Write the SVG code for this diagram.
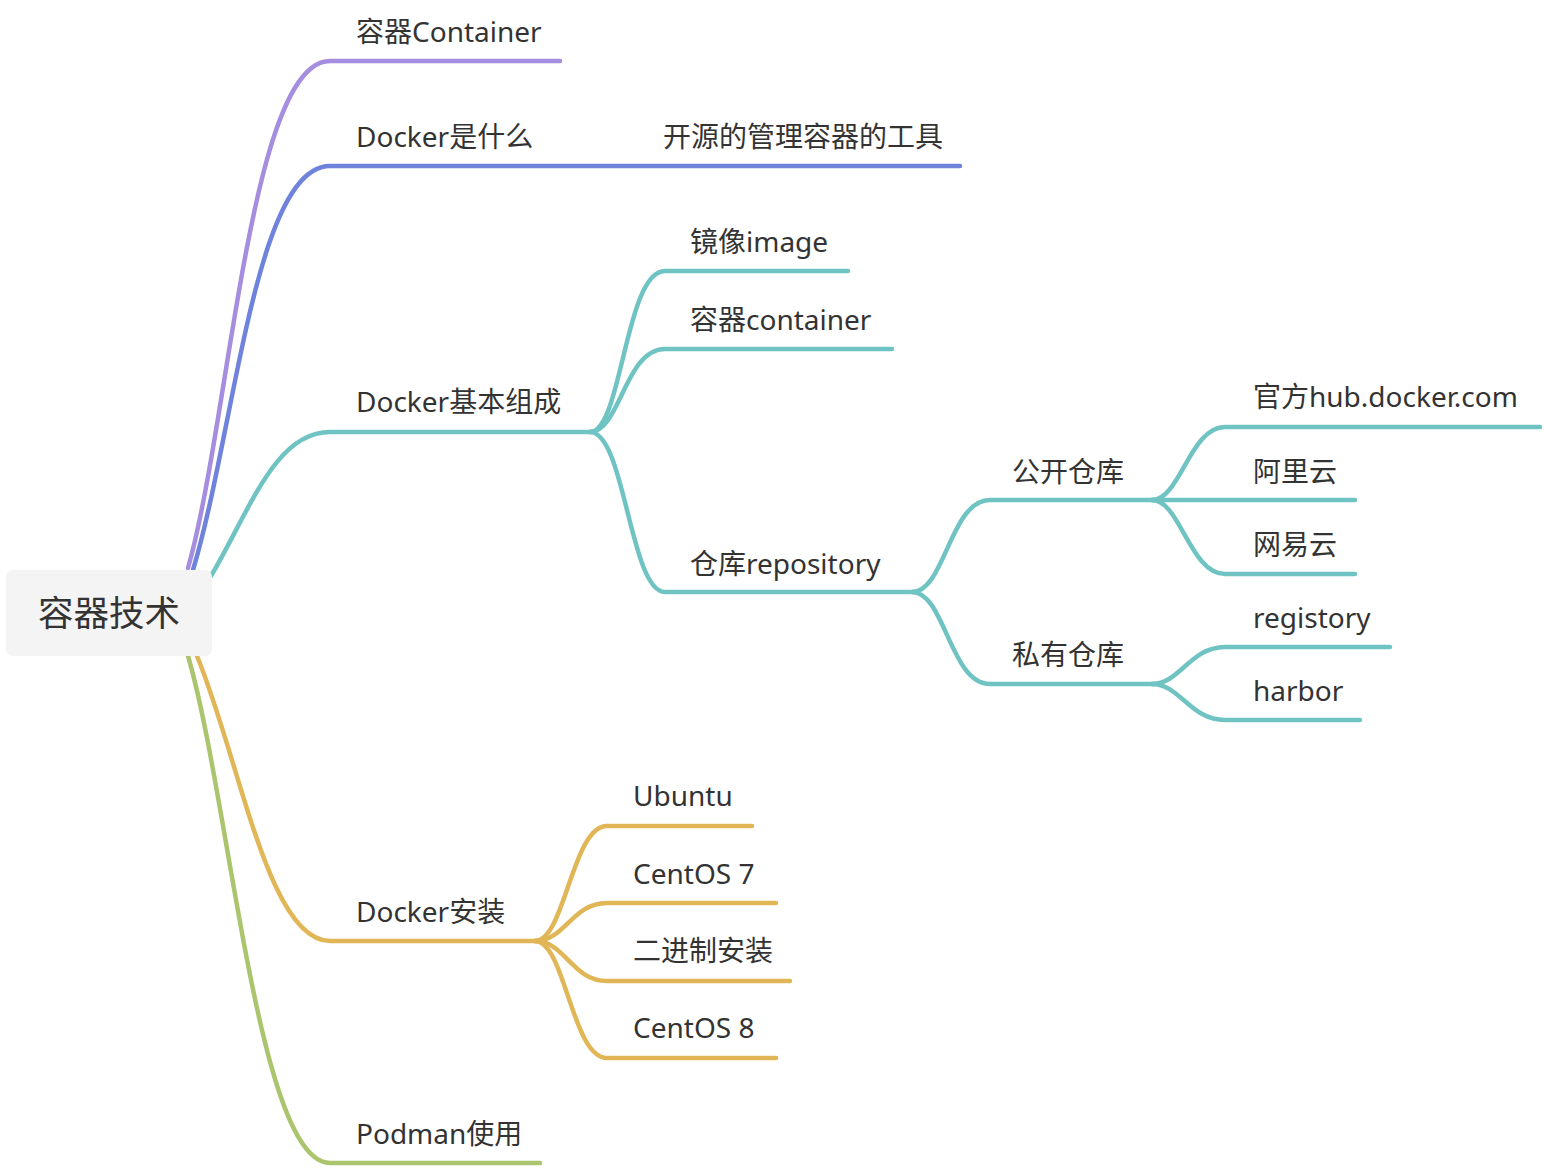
<svg xmlns="http://www.w3.org/2000/svg" width="1544" height="1168" viewBox="0 0 1544 1168">
<style>
text{font-family:"Noto Sans","Noto Sans CJK SC","Liberation Sans",sans-serif;font-size:28px;fill:#333333}
.c{fill:none;stroke-width:4.5;stroke-linecap:round;stroke-linejoin:round}
.p{stroke:#a58ddf}.b{stroke:#6f82dc}.t{stroke:#70c3c3}.o{stroke:#e1b657}.g{stroke:#aac56d}
</style>
<rect width="1544" height="1168" fill="#ffffff"/>
<g id="connectors">
<path class="c p" d="M188,568 C230,420 250,61 330,61 L560,61"/>
<path class="c b" d="M193,570 C235,430 255,166 330,166 L960,166"/>
<path class="c t" d="M211,576 C250,510 275,432 330,432 L592,432"/>
<path class="c t" d="M590,432 C622,432 625,271 665,271 L848,271"/>
<path class="c t" d="M590,432 C620,432 625,349 665,349 L892,349"/>
<path class="c t" d="M590,432 C625,432 630,592 665,592 L915,592"/>
<path class="c t" d="M912,592 C945,592 950,500 990,500 L1155,500"/>
<path class="c t" d="M912,592 C945,592 950,684 990,684 L1155,684"/>
<path class="c t" d="M1152,500 C1180,500 1190,427 1225,427 L1540,427"/>
<path class="c t" d="M1152,500 L1355,500"/>
<path class="c t" d="M1152,500 C1180,500 1190,574 1225,574 L1355,574"/>
<path class="c t" d="M1152,684 C1180,684 1190,647 1225,647 L1390,647"/>
<path class="c t" d="M1152,684 C1180,684 1190,720 1225,720 L1360,720"/>
<path class="c o" d="M197,656 C240,760 268,941 330,941 L537,941"/>
<path class="c o" d="M535,941 C565,941 572,826 607,826 L752,826"/>
<path class="c o" d="M535,941 C565,941 572,903 607,903 L776,903"/>
<path class="c o" d="M535,941 C565,941 572,981 607,981 L790,981"/>
<path class="c o" d="M535,941 C565,941 572,1058 607,1058 L776,1058"/>
<path class="c g" d="M188,656 C230,800 258,1163 330,1163 L540,1163"/>
</g>
<g id="root">
<rect x="6" y="570" width="206" height="86" rx="7" fill="#f4f4f4"/>
<text x="109" y="626" text-anchor="middle" style="font-size:35.5px">容器技术</text>
</g>
<g id="n-container"><text x="356" y="42">容器Container</text></g>
<g id="n-what"><text x="356" y="147">Docker是什么</text></g>
<g id="n-what-ans"><text x="663" y="147">开源的管理容器的工具</text></g>
<g id="n-basic"><text x="356" y="412">Docker基本组成</text></g>
<g id="n-image"><text x="690" y="252">镜像image</text></g>
<g id="n-container2"><text x="690" y="330">容器container</text></g>
<g id="n-repo"><text x="690" y="574">仓库repository</text></g>
<g id="n-public"><text x="1012" y="482">公开仓库</text></g>
<g id="n-private"><text x="1012" y="665">私有仓库</text></g>
<g id="n-hub"><text x="1253" y="407">官方hub.docker.com</text></g>
<g id="n-ali"><text x="1253" y="482">阿里云</text></g>
<g id="n-163"><text x="1253" y="555">网易云</text></g>
<g id="n-registory"><text x="1253" y="628">registory</text></g>
<g id="n-harbor"><text x="1253" y="701">harbor</text></g>
<g id="n-install"><text x="356" y="922">Docker安装</text></g>
<g id="n-ubuntu"><text x="633" y="806">Ubuntu</text></g>
<g id="n-centos7"><text x="633" y="884">CentOS 7</text></g>
<g id="n-binary"><text x="633" y="961">二进制安装</text></g>
<g id="n-centos8"><text x="633" y="1038">CentOS 8</text></g>
<g id="n-podman"><text x="356" y="1144">Podman使用</text></g>
</svg>
